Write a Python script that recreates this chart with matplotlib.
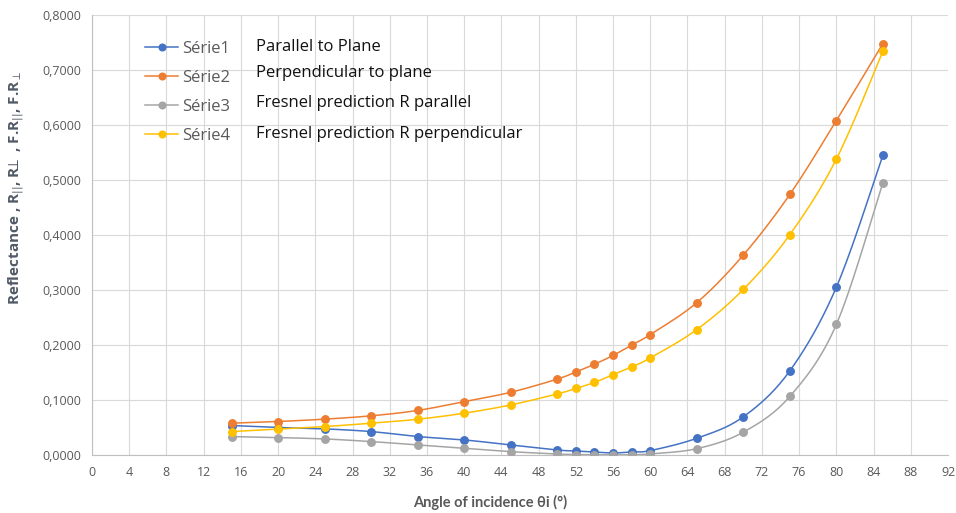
import numpy as np
import matplotlib
matplotlib.use("Agg")
import matplotlib.pyplot as plt
from matplotlib.ticker import MultipleLocator, FuncFormatter

# ---- data ----
angles = [15, 20, 25, 30, 35, 40, 45, 50, 52, 54, 56, 58, 60, 65, 70, 75, 80, 85]
serie1 = [0.0536, 0.0500, 0.0475, 0.0426, 0.0335, 0.0274, 0.0183, 0.0091, 0.0073,
          0.0055, 0.0037, 0.0055, 0.0080, 0.0304, 0.0694, 0.1530, 0.3050, 0.5450]
serie2 = [0.0578, 0.0609, 0.0652, 0.0712, 0.0810, 0.0970, 0.1140, 0.1380, 0.1510,
          0.1650, 0.1810, 0.2000, 0.2190, 0.2770, 0.3635, 0.4737, 0.6080, 0.7480]
serie3 = [0.0335, 0.0317, 0.0292, 0.0244, 0.0183, 0.0122, 0.0061, 0.0018, 0.0008,
          0.0004, 0.0002, 0.0004, 0.0020, 0.0115, 0.0415, 0.1065, 0.2374, 0.4950]
serie4 = [0.0426, 0.0470, 0.0517, 0.0578, 0.0650, 0.0760, 0.0910, 0.1110, 0.1210,
          0.1320, 0.1460, 0.1600, 0.1766, 0.2280, 0.3010, 0.4006, 0.5380, 0.7340]
series_names = ["Série1", "Série2", "Série3", "Série4"]
descriptions = ["Parallel to Plane", "Perpendicular to plane",
                "Fresnel prediction R parallel", "Fresnel prediction R perpendicular"]
colors = ["#4472C4", "#ED7D31", "#A5A5A5", "#FFC000"]

def smooth(xs, ys, n=30):
    """Excel-like smoothed line (Bezier with Catmull-Rom control points)."""
    P = np.column_stack([xs, ys]).astype(float)
    out = []
    m = len(P)
    t = np.linspace(0, 1, n)[:, None]
    for i in range(m - 1):
        p0 = P[i - 1] if i > 0 else P[i]
        p1 = P[i]
        p2 = P[i + 1]
        p3 = P[i + 2] if i + 2 < m else P[i + 1]
        c1 = p1 + (p2 - p0) / 6.0
        c2 = p2 - (p3 - p1) / 6.0
        seg = ((1 - t) ** 3) * p1 + 3 * ((1 - t) ** 2) * t * c1 + 3 * (1 - t) * t ** 2 * c2 + t ** 3 * p2
        out.append(seg if i == 0 else seg[1:])
    out = np.vstack(out)
    return out[:, 0], out[:, 1]

fig = plt.figure(figsize=(9.56, 5.13), dpi=100)
W, H = 956, 513
ax = fig.add_axes([92 / W, 1 - 455 / H, (948 - 92) / W, (455 - 15) / H])

handles = []
for ys, c, name in zip([serie1, serie2, serie3, serie4], colors, series_names):
    sx, sy = smooth(angles, ys)
    ax.plot(sx, sy, color=c, lw=1.1, zorder=3)
    ax.plot(angles, ys, "o", color=c, ms=5.4, zorder=4)
    h, = ax.plot([], [], "-o", color=c, lw=1.1, ms=4.8, label=name)
    handles.append(h)

ax.set_xlim(0, 92)
ax.set_ylim(0, 0.8)
ax.xaxis.set_major_locator(MultipleLocator(4))
ax.yaxis.set_major_locator(MultipleLocator(0.1))
ax.yaxis.set_major_formatter(FuncFormatter(lambda v, p: f"{v:.4f}".replace(".", ",")))
ax.grid(True, color="#D9D9D9", lw=0.8, zorder=0)
ax.set_axisbelow(True)
for s in ["top", "right"]:
    ax.spines[s].set_visible(False)
for s in ["left", "bottom"]:
    ax.spines[s].set_color("#BFBFBF")
    ax.spines[s].set_linewidth(0.8)
ax.tick_params(length=0, colors="#595959", labelsize=9, pad=8)
for lab in ax.get_xticklabels() + ax.get_yticklabels():
    lab.set_fontfamily("Open Sans")

ax.set_xlabel("Angle of incidence θi (°)", fontsize=10.5, fontweight="bold",
              color="#595959", family="Lato")
ax.xaxis.set_label_coords((490 - 92) / 856, -0.09)
ax.set_ylabel(r"Reflectance , R$_{||}$, R$\!\!\perp$ , F.R$_{||}$, F.R$_{\perp}$",
              fontsize=11, fontweight="bold", color="#505A66",
              family=["Open Sans", "DejaVu Sans"])
ax.yaxis.set_label_coords(-0.077, (455 - 188) / 440)

leg = ax.legend(handles=handles, loc="upper left", bbox_to_anchor=(145 / W, 1 - 41 / H),
                bbox_transform=fig.transFigure, frameon=False,
                labelcolor="#595959", handlelength=2.0, handletextpad=0.25,
                labelspacing=0.78, borderpad=0, borderaxespad=0,
                prop={"family": "Open Sans", "size": 12})

desc_y = [47, 73, 103, 134]
for d, yy in zip(descriptions, desc_y):
    fig.text(256 / W, 1 - yy / H, d, fontsize=12, color="#111111",
             family="Open Sans", va="center", ha="left")

fig.savefig("out.png", dpi=100)
